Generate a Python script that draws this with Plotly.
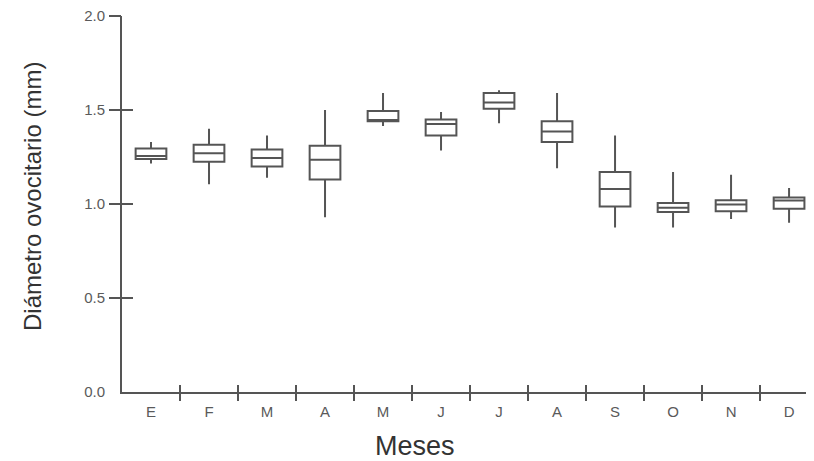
import plotly.graph_objects as go

months = ["E", "F", "M", "A", "M", "J", "J", "A", "S", "O", "N", "D"]
upper = [1.33, 1.40, 1.365, 1.50, 1.59, 1.49, 1.605, 1.59, 1.365, 1.17, 1.155, 1.085]
q3 = [1.295, 1.315, 1.29, 1.31, 1.495, 1.45, 1.59, 1.44, 1.17, 1.005, 1.02, 1.035]
median = [1.255, 1.27, 1.245, 1.235, 1.447, 1.425, 1.54, 1.385, 1.08, 0.98, 0.998, 1.018]
q1 = [1.24, 1.225, 1.20, 1.13, 1.44, 1.365, 1.507, 1.33, 0.987, 0.957, 0.962, 0.975]
lower = [1.215, 1.105, 1.14, 0.93, 1.415, 1.285, 1.43, 1.19, 0.875, 0.875, 0.92, 0.90]
y_ticks = [0.0, 0.5, 1.0, 1.5, 2.0]

x_pos = list(range(len(months)))
bounds = [i + 0.5 for i in range(len(months) - 1)]
XR = [-0.5, 11.43]
YR = [0, 2.0]
GREY = "#555555"
FONT = "Liberation Sans, Arial, sans-serif"

fig = go.Figure()
fig.add_trace(go.Box(
    x=x_pos, q1=q1, median=median, q3=q3, lowerfence=lower, upperfence=upper,
    width=0.53, whiskerwidth=0, boxpoints=False,
    line=dict(color=GREY, width=2), fillcolor="white", showlegend=False,
))
fig.add_trace(go.Scatter(x=[], y=[], xaxis="x2", yaxis="y2", showlegend=False, hoverinfo="skip"))

fig.update_layout(
    width=806, height=453,
    margin=dict(l=114, r=0, t=8, b=69),
    plot_bgcolor="white", paper_bgcolor="white",
    font=dict(family=FONT, color=GREY),
    xaxis=dict(
        range=XR, showgrid=False, zeroline=False,
        showline=True, linecolor=GREY, linewidth=2,
        tickmode="array", tickvals=x_pos, ticktext=months, ticks="",
        tickfont=dict(size=15, color="#5a5a5a"), ticklabelstandoff=5,
        ticklabeloverflow="allow",
        minor=dict(tickmode="array", tickvals=bounds, ticks="inside", ticklen=7,
                   tickwidth=2, tickcolor=GREY, showgrid=False),
    ),
    yaxis=dict(
        range=YR, showgrid=False, zeroline=False,
        showline=True, linecolor=GREY, linewidth=2,
        tickmode="array", tickvals=y_ticks, ticktext=[f"{v:.1f}" for v in y_ticks],
        ticks="inside", ticklen=11, tickwidth=2, tickcolor=GREY,
        tickfont=dict(size=15, color="#5a5a5a"), ticklabelstandoff=12,
        ticklabeloverflow="allow",
    ),
    xaxis2=dict(
        overlaying="x", anchor="y2", side="bottom", range=XR,
        showgrid=False, zeroline=False, showline=False,
        tickmode="array", tickvals=bounds, ticks="outside", ticklen=8,
        tickwidth=2, tickcolor=GREY, showticklabels=False,
    ),
    yaxis2=dict(
        overlaying="y", anchor="x2", side="left", range=YR,
        showgrid=False, zeroline=False, showline=False,
        tickmode="array", tickvals=y_ticks[1:], ticks="outside", ticklen=12,
        tickwidth=2, tickcolor=GREY, showticklabels=False,
    ),
    annotations=[
        dict(text="Meses", xref="paper", yref="paper", x=(415 - 122) / 692, y=-(446 - 392) / 376,
             xanchor="center", yanchor="middle", showarrow=False,
             font=dict(size=27, color="#333333", family=FONT)),
        dict(text="Diámetro ovocitario (mm)", xref="paper", yref="paper",
             x=(32 - 122) / 692, y=(392 - 197) / 376, textangle=-90,
             xanchor="center", yanchor="middle", showarrow=False,
             font=dict(size=24, color="#333333", family=FONT)),
    ],
)

fig.write_html("out.html")
